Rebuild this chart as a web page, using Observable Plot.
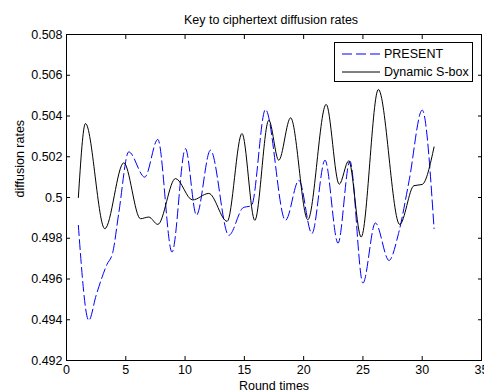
<!DOCTYPE html>
<html>
<head>
<meta charset="utf-8">
<script src="https://cdn.jsdelivr.net/npm/d3@7"></script>
<script src="https://cdn.jsdelivr.net/npm/@observablehq/plot@0.6"></script>
<style>
  html, body { margin: 0; padding: 0; background: white; }
  #wrap { position: relative; width: 484px; height: 392px; font-family: "Liberation Sans", Arial, sans-serif; }
  #legend { position: absolute; left: 334px; top: 42px; width: 137px; height: 38px; border: 1px solid #000; background: #fff; font-size: 12.5px; }
  .row { position: absolute; left: 0; height: 16px; display: flex; align-items: center; }
  .row svg { margin-left: 7px; margin-right: 4px; }
</style>
</head>
<body>
<div id="wrap"></div>
<script>
const title = "Key to ciphertext diffusion rates";
const xLabel = "Round times";
const yLabel = "diffusion rates";
const seriesNames = ["PRESENT", "Dynamic S-box"];

const xTickLabels = ["0", "5", "10", "15", "20", "25", "30", "35"];
const yTickLabels = ["0.492", "0.494", "0.496", "0.498", "0.5", "0.502", "0.504", "0.506", "0.508"];

// PRESENT (blue dashed)
const presentX = [1, 1.88, 2.5, 3.4, 3.9, 4.4, 5.25, 6.6, 7.7, 8.9, 10.03, 10.96, 12.14, 13.69, 14.9, 15.6, 16.78, 18.47, 19.6, 20.7, 21.8, 22.9, 23.9, 25.0, 26.05, 27.2, 28.0, 28.9, 30.0, 31];
const presentY = [0.49863, 0.49397, 0.49520, 0.49670, 0.49730, 0.49920, 0.50224, 0.50100, 0.50285, 0.49732, 0.50240, 0.49913, 0.50232, 0.49814, 0.49950, 0.49960, 0.50432, 0.49888, 0.50084, 0.49823, 0.50183, 0.49776, 0.50179, 0.49580, 0.49875, 0.49691, 0.49823, 0.50084, 0.50429, 0.49847];

// Dynamic S-box (black solid)
const sboxX = [1, 1.6, 3.23, 4.83, 6.24, 6.94, 7.7, 9.19, 10.63, 12.0, 13.55, 14.8, 15.88, 17.06, 17.9, 18.9, 20.35, 21.9, 23.0, 23.8, 24.85, 26.3, 28.1, 29.3, 30.0, 31];
const sboxY = [0.50000, 0.50363, 0.49847, 0.50170, 0.49896, 0.49904, 0.49868, 0.50093, 0.49988, 0.50020, 0.49883, 0.50314, 0.49888, 0.50379, 0.50183, 0.50391, 0.49891, 0.50457, 0.50065, 0.50180, 0.49806, 0.50530, 0.49868, 0.50058, 0.50064, 0.50248];

const xTicks = xTickLabels.map(Number);
const yTicks = yTickLabels.map(Number);
const present = presentX.map((x, i) => ({x, y: presentY[i]}));
const sbox = sboxX.map((x, i) => ({x, y: sboxY[i]}));

const blue = "#0000ff";
const dash = "10,4";

const chart = Plot.plot({
  width: 484,
  height: 392,
  marginLeft: 66,
  marginRight: 3,
  marginTop: 34,
  marginBottom: 32,
  x: {domain: [0, 35]},
  y: {domain: [0.492, 0.508]},
  style: {fontFamily: "'Liberation Sans', Arial, sans-serif", fontSize: "12.5px", background: "white", color: "#000", overflow: "visible"},
  marks: [
    Plot.line(present, {x: "x", y: "y", stroke: blue, strokeWidth: 1, strokeDasharray: dash, curve: "monotone-x"}),
    Plot.line(sbox, {x: "x", y: "y", stroke: "#000", strokeWidth: 1, curve: "monotone-x"}),
    Plot.frame({stroke: "#000", strokeWidth: 1}),
    Plot.axisX({ticks: xTicks, tickSize: -4, tickFormat: () => "", label: null}),
    Plot.axisX({anchor: "top", ticks: xTicks, tickSize: -4, tickFormat: () => "", label: null}),
    Plot.axisY({ticks: yTicks, tickSize: -4, tickFormat: () => "", label: null}),
    Plot.axisY({anchor: "right", ticks: yTicks, tickSize: -4, tickFormat: () => "", label: null}),
    Plot.axisX({ticks: xTicks, tickSize: 0, tickPadding: 5, tickFormat: d => xTickLabels[xTicks.indexOf(d)], label: null}),
    Plot.axisY({ticks: yTicks, tickSize: 0, tickPadding: 4, tickFormat: d => yTickLabels[yTicks.indexOf(d)], label: null}),
    Plot.text([xLabel], {text: d => d, frameAnchor: "bottom", dy: 25, lineAnchor: "middle"}),
    Plot.text([yLabel], {text: d => d, frameAnchor: "left", dx: -47, rotate: -90, lineAnchor: "middle"}),
    Plot.text([title], {text: d => d, frameAnchor: "top", dy: -15, dx: -3, lineAnchor: "middle"})
  ]
});

const wrap = document.getElementById("wrap");
wrap.appendChild(chart);

const legend = document.createElement("div");
legend.id = "legend";
const styles = [{stroke: blue, dash}, {stroke: "#000", dash: null}];
seriesNames.forEach((name, i) => {
  const row = document.createElement("div");
  row.className = "row";
  row.style.top = (i === 0 ? 3 : 21) + "px";
  const s = styles[i];
  row.innerHTML = `<svg width="38" height="10"><line x1="0" x2="38" y1="5" y2="5" stroke="${s.stroke}" stroke-width="1" ${s.dash ? `stroke-dasharray="${s.dash}"` : ""}/></svg><span>${name}</span>`;
  legend.appendChild(row);
});
wrap.appendChild(legend);
</script>
</body>
</html>
